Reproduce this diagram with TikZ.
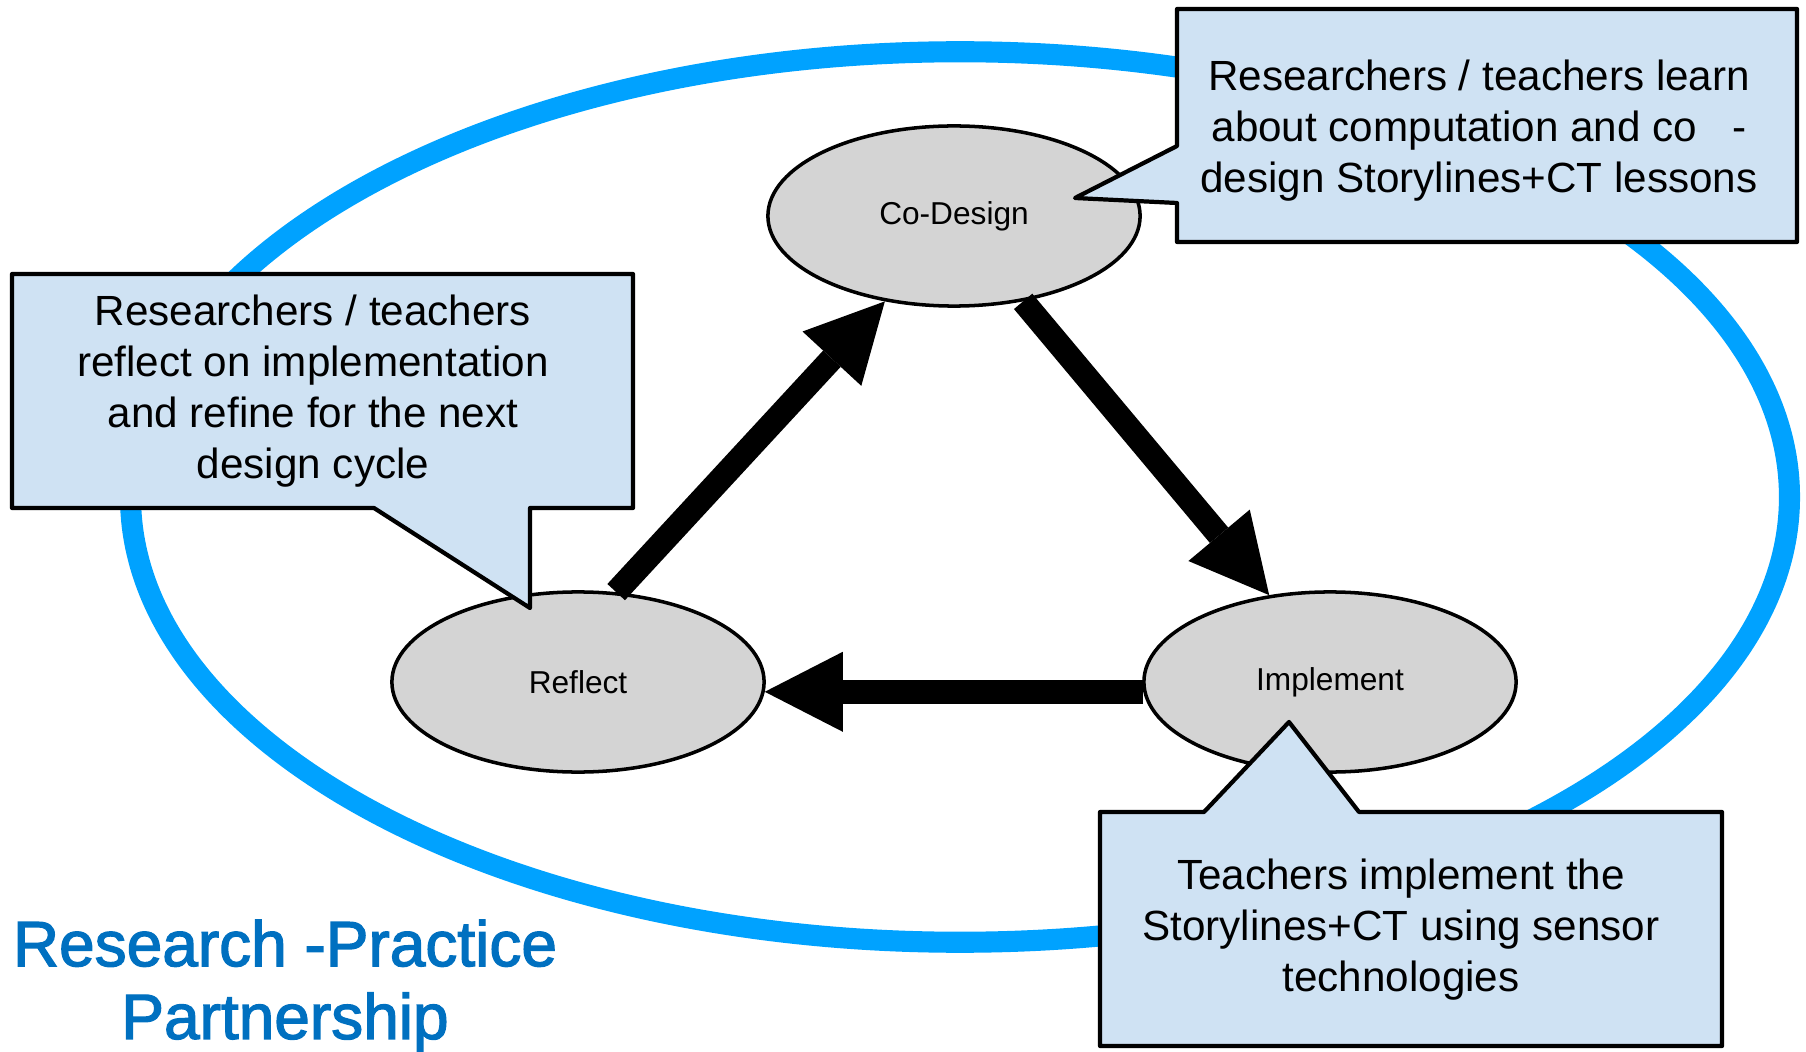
\documentclass[tikz,border=0pt]{standalone}
\usepackage{fontspec}
\setmainfont{Liberation Sans}
\newfontfamily\rppfont[FakeBold=2]{Liberation Sans}
\usetikzlibrary{arrows.meta, shapes.geometric}

\definecolor{rppblue}{RGB}{0,162,255}
\definecolor{rpptitle}{RGB}{0,112,192}
\definecolor{notefill}{RGB}{207,226,243}
\definecolor{stagefill}{RGB}{212,212,212}

\begin{document}
\begin{tikzpicture}[x=0.01cm, y=-0.01cm, >={Triangle[length=0.78cm, width=0.80cm, line width=0pt]}]
    \tikzset{
        stage/.style={ellipse, draw, line width=1pt, fill=stagefill, minimum width=3.72cm, minimum height=1.80cm, inner sep=0pt, font=\fontsize{9}{11}\selectfont},
        note/.style={draw, line width=1.2pt, fill=notefill, line join=round},
        notetext/.style={align=center, inner sep=0pt, font=\fontsize{12}{14.5}\selectfont},
        cyclearrow/.style={->, line width=6.8pt}
    }
    \useasboundingbox (0,0) rectangle (1806,1052);

    % Partnership loop
    \draw[rppblue, line width=6pt] (960,497) ellipse [x radius=8.29cm, y radius=4.45cm];

    % Stages
    \node[stage] (cod) at (954,216) {Co-Design};
    \node[stage] (refl) at (578,682) {Reflect};
    \node[stage] (impl) at (1330,682) {Implement};

    % Cycle arrows
    \draw[cyclearrow] (refl.67) -- (cod.231);
    \draw[cyclearrow] (cod.309) -- (impl.125);
    \draw[cyclearrow] (impl.183) -- (refl.357);

    % Notes
    \draw[note] (1177,9) -- (1797,9) -- (1797,242) -- (1177,242) -- (1177,203) -- (1075,198) -- (1177,146) -- cycle;
    \draw[note] (12,274) -- (633,274) -- (633,508) -- (530,508) -- (530,608) -- (374,508) -- (12,508) -- cycle;
    \draw[note] (1100,812) -- (1204,812) -- (1289,722) -- (1359,812) -- (1722,812) -- (1722,1046) -- (1100,1046) -- cycle;

    \node[notetext] (codnote) at (1479,131) {Researchers / teachers learn\\about computation and co\ \ \ -\\design Storylines+CT lessons};
    \node[notetext] (reflnote) at (313,391) {Researchers / teachers\\reflect on implementation\\and refine for the next\\design cycle};
    \node[notetext] (implnote) at (1401,930) {Teachers implement the\\Storylines+CT using sensor\\technologies};

    % Title
    \node[align=center, text=rpptitle, inner sep=0pt, font=\rppfont\fontsize{18.2}{20.7}\selectfont] (rpp) at (285,986) {Research -Practice\\Partnership};
\end{tikzpicture}
\end{document}
